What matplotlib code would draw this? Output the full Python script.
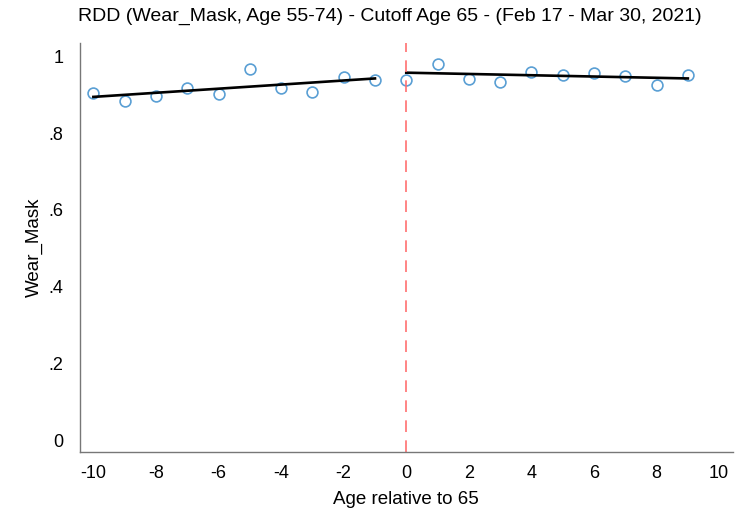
#!/usr/bin/env python
# coding=utf-8
# RDD scatter with linear fits on each side of the cutoff
import numpy as np
import matplotlib
matplotlib.use('Agg')
import matplotlib.pyplot as plt

plt.rcParams['font.family'] = ['Liberation Sans', 'DejaVu Sans']
plt.rcParams['axes.unicode_minus'] = False

# binned means, left of cutoff
age_left = [-10, -9, -8, -7, -6, -5, -4, -3, -2, -1]
mask_left = [0.904, 0.883, 0.896, 0.917, 0.901, 0.966, 0.917, 0.906, 0.945, 0.938]
# binned means, right of cutoff
age_right = [0, 1, 2, 3, 4, 5, 6, 7, 8, 9]
mask_right = [0.939, 0.980, 0.940, 0.932, 0.960, 0.952, 0.955, 0.948, 0.926, 0.951]

# fitted line endpoints
fit_left_x = [-10, -1]
fit_left_y = [0.894, 0.942]
fit_right_x = [0, 9]
fit_right_y = [0.957, 0.942]

xticks = [-10, -8, -6, -4, -2, 0, 2, 4, 6, 8, 10]
yticks = [0, 0.2, 0.4, 0.6, 0.8, 1]
ytick_labels = ['0', '.2', '.4', '.6', '.8', '1']

fig = plt.figure(figsize=(7.4, 5.17), dpi=100)
ax = fig.add_axes([0.108, 0.1257, 0.882, 0.7917])

mk = dict(marker='o', linestyle='none', markersize=7.8,
          markerfacecolor='none', markeredgecolor='#5a9fd4', markeredgewidth=1.2)
ax.plot(age_left, mask_left, **mk)
ax.plot(age_right, mask_right, **mk)
ax.plot(fit_left_x, fit_left_y, color='black', linewidth=1.9)
ax.plot(fit_right_x, fit_right_y, color='black', linewidth=1.9)
ax.axvline(0, color='#ff6f6f', linewidth=1.2, dashes=(7, 5))

ax.set_xlim(-10.43, 10.43)
ax.set_ylim(-0.03, 1.035)
ax.set_xticks(xticks)
ax.set_yticks(yticks)
ax.set_yticklabels(ytick_labels)
ax.tick_params(axis='both', length=0, labelsize=13)
ax.tick_params(axis='x', pad=9)
ax.tick_params(axis='y', pad=12)

for s in ['top', 'right']:
    ax.spines[s].set_visible(False)
for s in ['left', 'bottom']:
    ax.spines[s].set_color('#777777')
    ax.spines[s].set_linewidth(1.0)

ax.set_xlabel('Age relative to 65', fontsize=13.5, labelpad=7)
ax.set_ylabel('Wear_Mask', fontsize=13.5, labelpad=4)
fig.suptitle('RDD (Wear_Mask, Age 55-74) - Cutoff Age 65 - (Feb 17 - Mar 30, 2021)',
             fontsize=14, x=0.527, y=0.985)

fig.savefig('out.png', dpi=100)
